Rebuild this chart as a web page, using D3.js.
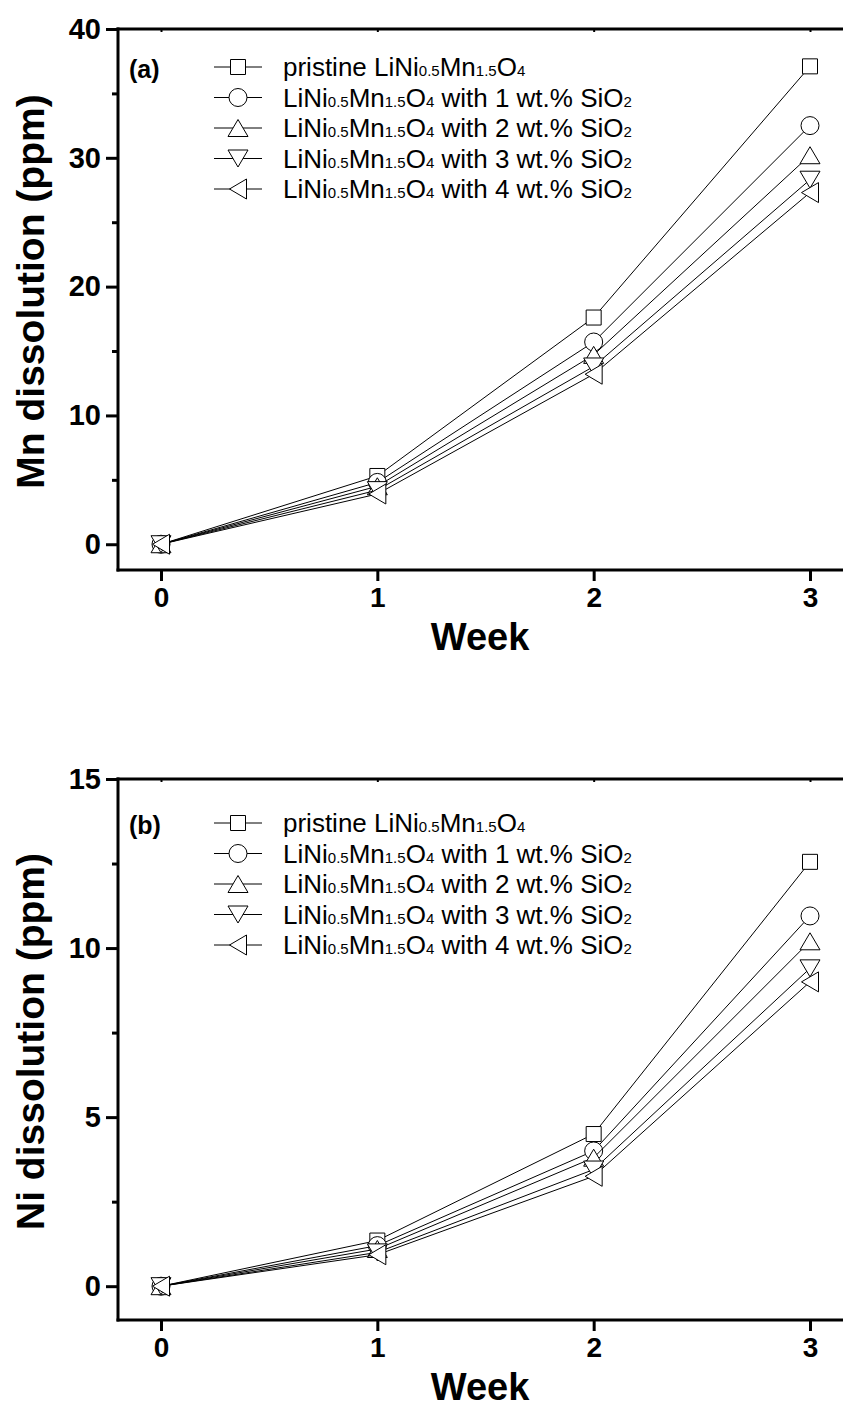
<!DOCTYPE html>
<html lang="en">
<head>
<meta charset="UTF-8">
<title>Mn / Ni dissolution</title>
<script src="https://d3js.org/d3.v7.min.js"></script>
<style>
  body { margin: 0; background: #fff; }
  svg { display: block; font-family: "Liberation Sans", Arial, sans-serif; }
</style>
</head>
<body>
<svg id="chart" width="843" height="1409"></svg>
<script>
// data
var weeks = [0, 1, 2, 3];
var weekTicks = [0, 1, 2, 3];

var mnPristine = [0, 5.3, 17.6, 37.1];
var mnSiO2_1 = [0, 4.8, 15.7, 32.5];
var mnSiO2_2 = [0, 4.5, 14.7, 30.2];
var mnSiO2_3 = [0, 4.2, 13.8, 28.3];
var mnSiO2_4 = [0, 3.9, 13.2, 27.3];

var niPristine = [0, 1.35, 4.5, 12.55];
var niSiO2_1 = [0, 1.2, 4.0, 10.95];
var niSiO2_2 = [0, 1.1, 3.8, 10.2];
var niSiO2_3 = [0, 1.0, 3.45, 9.4];
var niSiO2_4 = [0, 0.93, 3.25, 9.0];

var mnTicks = [0, 10, 20, 30, 40];
var mnMinor = [5, 15, 25, 35];
var niTicks = [0, 5, 10, 15];
var niMinor = [2.5, 7.5, 12.5];

var symbols = ["square", "circle", "up", "down", "left"];
// legend labels split into [text, isSubscript] pieces
var legendLabels = [
  [["pristine LiNi", 0], ["0.5", 1], ["Mn", 0], ["1.5", 1], ["O", 0], ["4", 1]],
  [["LiNi", 0], ["0.5", 1], ["Mn", 0], ["1.5", 1], ["O", 0], ["4", 1], [" with 1 wt.% SiO", 0], ["2", 1]],
  [["LiNi", 0], ["0.5", 1], ["Mn", 0], ["1.5", 1], ["O", 0], ["4", 1], [" with 2 wt.% SiO", 0], ["2", 1]],
  [["LiNi", 0], ["0.5", 1], ["Mn", 0], ["1.5", 1], ["O", 0], ["4", 1], [" with 3 wt.% SiO", 0], ["2", 1]],
  [["LiNi", 0], ["0.5", 1], ["Mn", 0], ["1.5", 1], ["O", 0], ["4", 1], [" with 4 wt.% SiO", 0], ["2", 1]]
];

var svg = d3.select("#chart");

function symbolPath(type) {
  if (type == "square") return "M-7.5,-7.5H7.5V7.5H-7.5Z";
  if (type == "circle") return d3.arc()({innerRadius: 0, outerRadius: 9, startAngle: 0, endAngle: 2 * Math.PI});
  if (type == "up") return "M0,-8.5L10,8.5L-10,8.5Z";
  if (type == "down") return "M0,8.5L10,-8.5L-10,-8.5Z";
  return "M-8.5,0L8.5,-10L8.5,10Z";
}

function drawPanel(opt) {
  var g = svg.append("g");
  var left = 118, right = 850;
  var x = d3.scaleLinear().domain([0, 3]).range([161, 810]);
  var y = d3.scaleLinear().domain(opt.yDomain).range([opt.bottom, opt.top]);

  // y axis (left), ticks outward
  var yAxis = d3.axisLeft(y).tickValues(opt.ticks).tickSize(12).tickPadding(5).tickFormat(d3.format("d"));
  var ya = g.append("g").attr("transform", "translate(" + left + ",0)").call(yAxis);
  ya.select(".domain").remove();
  ya.selectAll(".tick line").attr("stroke-width", 3);
  ya.selectAll(".tick text").attr("font-size", 29).attr("font-weight", "bold").attr("fill", "#000")
    .attr("font-family", "Liberation Sans, Arial, sans-serif");
  var yMin = d3.axisLeft(y).tickValues(opt.minor).tickSize(6).tickFormat("");
  var ym = g.append("g").attr("transform", "translate(" + left + ",0)").call(yMin);
  ym.select(".domain").remove();
  ym.selectAll(".tick line").attr("stroke-width", 3);

  // x axis (bottom)
  var xAxis = d3.axisBottom(x).tickValues(weekTicks).tickSize(11).tickPadding(6).tickFormat(d3.format("d"));
  var xa = g.append("g").attr("transform", "translate(0," + opt.bottom + ")").call(xAxis);
  xa.select(".domain").remove();
  xa.selectAll(".tick line").attr("stroke-width", 3);
  xa.selectAll(".tick text").attr("font-size", 28).attr("font-weight", "bold").attr("fill", "#000")
    .attr("font-family", "Liberation Sans, Arial, sans-serif");

  // top axis with tiny inward ticks
  var xTop = d3.axisTop(x).tickValues(weekTicks).tickSize(-3).tickFormat("");
  var xt = g.append("g").attr("transform", "translate(0," + opt.top + ")").call(xTop);
  xt.select(".domain").remove();
  xt.selectAll(".tick line").attr("stroke-width", 2);

  // frame lines
  g.append("line").attr("x1", left).attr("x2", left).attr("y1", opt.top - 1.5).attr("y2", opt.bottom + 1.5)
    .attr("stroke", "#000").attr("stroke-width", 3);
  g.append("line").attr("x1", left - 1.5).attr("x2", right).attr("y1", opt.bottom).attr("y2", opt.bottom)
    .attr("stroke", "#000").attr("stroke-width", 3);
  g.append("line").attr("x1", left - 1.5).attr("x2", right).attr("y1", opt.top).attr("y2", opt.top)
    .attr("stroke", "#000").attr("stroke-width", 3);

  // titles
  g.append("text").attr("x", 480).attr("y", opt.bottom + 80).attr("text-anchor", "middle")
    .attr("font-size", 38).attr("font-weight", "bold").text("Week");
  g.append("text").attr("transform", "translate(44," + ((opt.top + opt.bottom) / 2 - 8) + ") rotate(-90)")
    .attr("text-anchor", "middle").attr("font-size", 39).attr("font-weight", "bold").text(opt.yTitle);

  // series
  var line = d3.line().x(function(d, i) { return x(weeks[i]); }).y(function(d) { return y(d); });
  opt.series.forEach(function(s, k) {
    g.append("path").attr("d", line(s)).attr("fill", "none").attr("stroke", "#000").attr("stroke-width", 1);
    g.selectAll(null).data(s).enter().append("path")
      .attr("d", symbolPath(symbols[k]))
      .attr("transform", function(d, i) { return "translate(" + x(weeks[i]) + "," + y(d) + ")"; })
      .attr("fill", "#fff").attr("stroke", "#000").attr("stroke-width", 1);
  });

  // panel letter
  g.append("text").attr("x", 129).attr("y", opt.legendY + 11).attr("font-size", 25)
    .attr("font-weight", "bold").text(opt.letter);

  // legend
  legendLabels.forEach(function(parts, k) {
    var ly = opt.legendY + k * 30.5;
    g.append("line").attr("x1", 214).attr("x2", 262).attr("y1", ly).attr("y2", ly)
      .attr("stroke", "#000").attr("stroke-width", 1);
    g.append("path").attr("d", symbolPath(symbols[k])).attr("transform", "translate(238," + ly + ")")
      .attr("fill", "#fff").attr("stroke", "#000").attr("stroke-width", 1);
    var t = g.append("text").attr("x", 283).attr("y", ly + 9).attr("font-size", 26);
    parts.forEach(function(p) {
      var ts = t.append("tspan").text(p[0]);
      if (p[1]) ts.attr("font-size", 15);
    });
  });
}

drawPanel({
  top: 29, bottom: 570, yDomain: [-2, 40], ticks: mnTicks, minor: mnMinor,
  yTitle: "Mn dissolution (ppm)", letter: "(a)", legendY: 67,
  series: [mnPristine, mnSiO2_1, mnSiO2_2, mnSiO2_3, mnSiO2_4]
});

drawPanel({
  top: 779, bottom: 1320, yDomain: [-1, 15], ticks: niTicks, minor: niMinor,
  yTitle: "Ni dissolution (ppm)", letter: "(b)", legendY: 823,
  series: [niPristine, niSiO2_1, niSiO2_2, niSiO2_3, niSiO2_4]
});
</script>
</body>
</html>
